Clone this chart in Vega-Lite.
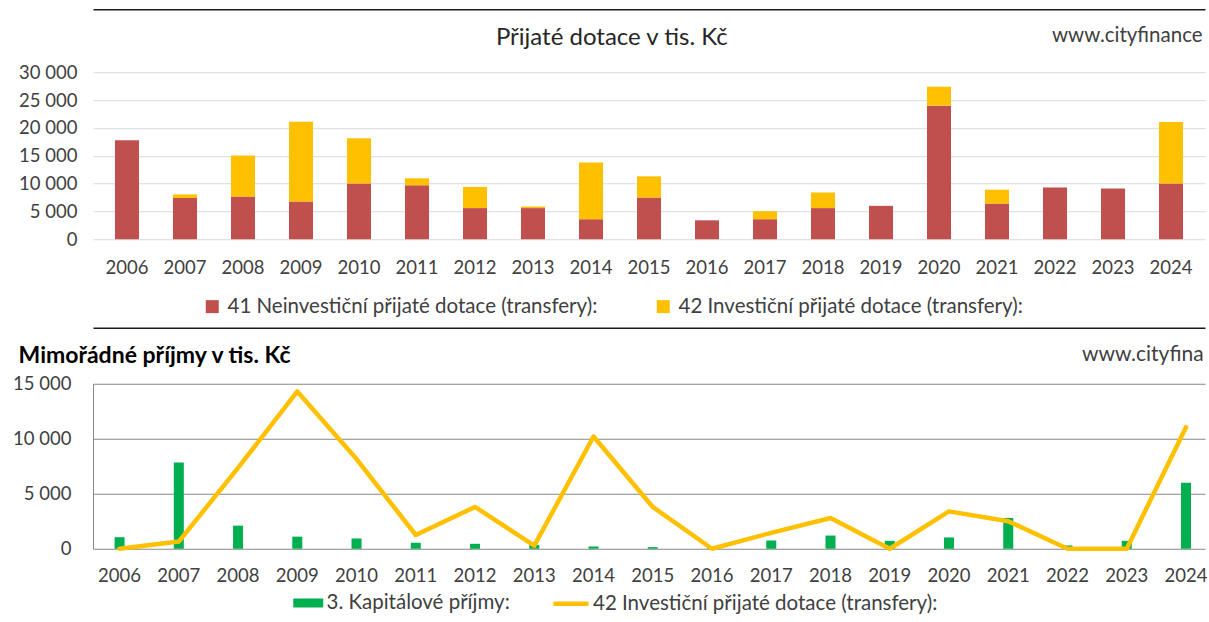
{
  "$schema": "https://vega.github.io/schema/vega-lite/v6.json",
  "padding": {"left": 12, "top": 9.25, "right": 0, "bottom": 0},
  "autosize": {"type": "pad"},
  "background": "white",
  "spacing": 10.5,
  "resolve": {"scale": {"color": "independent", "stroke": "independent", "x": "independent", "y": "independent"}, "legend": {"color": "independent", "stroke": "independent"}},
  "datasets": {
    "top": [
      {"rok": "2006", "typ": "41 Neinvestiční přijaté dotace (transfery):", "tis": 17800},
      {"rok": "2007", "typ": "41 Neinvestiční přijaté dotace (transfery):", "tis": 7400},
      {"rok": "2008", "typ": "41 Neinvestiční přijaté dotace (transfery):", "tis": 7700},
      {"rok": "2009", "typ": "41 Neinvestiční přijaté dotace (transfery):", "tis": 6800},
      {"rok": "2010", "typ": "41 Neinvestiční přijaté dotace (transfery):", "tis": 10000},
      {"rok": "2011", "typ": "41 Neinvestiční přijaté dotace (transfery):", "tis": 9700},
      {"rok": "2012", "typ": "41 Neinvestiční přijaté dotace (transfery):", "tis": 5600},
      {"rok": "2013", "typ": "41 Neinvestiční přijaté dotace (transfery):", "tis": 5600},
      {"rok": "2014", "typ": "41 Neinvestiční přijaté dotace (transfery):", "tis": 3600},
      {"rok": "2015", "typ": "41 Neinvestiční přijaté dotace (transfery):", "tis": 7500},
      {"rok": "2016", "typ": "41 Neinvestiční přijaté dotace (transfery):", "tis": 3400},
      {"rok": "2017", "typ": "41 Neinvestiční přijaté dotace (transfery):", "tis": 3600},
      {"rok": "2018", "typ": "41 Neinvestiční přijaté dotace (transfery):", "tis": 5600},
      {"rok": "2019", "typ": "41 Neinvestiční přijaté dotace (transfery):", "tis": 6000},
      {"rok": "2020", "typ": "41 Neinvestiční přijaté dotace (transfery):", "tis": 24000},
      {"rok": "2021", "typ": "41 Neinvestiční přijaté dotace (transfery):", "tis": 6400},
      {"rok": "2022", "typ": "41 Neinvestiční přijaté dotace (transfery):", "tis": 9300},
      {"rok": "2023", "typ": "41 Neinvestiční přijaté dotace (transfery):", "tis": 9100},
      {"rok": "2024", "typ": "41 Neinvestiční přijaté dotace (transfery):", "tis": 10000},
      {"rok": "2006", "typ": "42 Investiční přijaté dotace (transfery):", "tis": 0},
      {"rok": "2007", "typ": "42 Investiční přijaté dotace (transfery):", "tis": 650},
      {"rok": "2008", "typ": "42 Investiční přijaté dotace (transfery):", "tis": 7350},
      {"rok": "2009", "typ": "42 Investiční přijaté dotace (transfery):", "tis": 14300},
      {"rok": "2010", "typ": "42 Investiční přijaté dotace (transfery):", "tis": 8150},
      {"rok": "2011", "typ": "42 Investiční přijaté dotace (transfery):", "tis": 1250},
      {"rok": "2012", "typ": "42 Investiční přijaté dotace (transfery):", "tis": 3800},
      {"rok": "2013", "typ": "42 Investiční přijaté dotace (transfery):", "tis": 280},
      {"rok": "2014", "typ": "42 Investiční přijaté dotace (transfery):", "tis": 10200},
      {"rok": "2015", "typ": "42 Investiční přijaté dotace (transfery):", "tis": 3800},
      {"rok": "2016", "typ": "42 Investiční přijaté dotace (transfery):", "tis": 0},
      {"rok": "2017", "typ": "42 Investiční přijaté dotace (transfery):", "tis": 1450},
      {"rok": "2018", "typ": "42 Investiční přijaté dotace (transfery):", "tis": 2800},
      {"rok": "2019", "typ": "42 Investiční přijaté dotace (transfery):", "tis": 0},
      {"rok": "2020", "typ": "42 Investiční přijaté dotace (transfery):", "tis": 3400},
      {"rok": "2021", "typ": "42 Investiční přijaté dotace (transfery):", "tis": 2500},
      {"rok": "2022", "typ": "42 Investiční přijaté dotace (transfery):", "tis": 0},
      {"rok": "2023", "typ": "42 Investiční přijaté dotace (transfery):", "tis": 0},
      {"rok": "2024", "typ": "42 Investiční přijaté dotace (transfery):", "tis": 11050}
    ],
    "bottom": [
      {"rok": "2006", "kap": 1050, "inv": 0},
      {"rok": "2007", "kap": 7850, "inv": 650},
      {"rok": "2008", "kap": 2100, "inv": 7350},
      {"rok": "2009", "kap": 1100, "inv": 14300},
      {"rok": "2010", "kap": 930, "inv": 8150},
      {"rok": "2011", "kap": 540, "inv": 1250},
      {"rok": "2012", "kap": 450, "inv": 3800},
      {"rok": "2013", "kap": 350, "inv": 280},
      {"rok": "2014", "kap": 200, "inv": 10200},
      {"rok": "2015", "kap": 150, "inv": 3800},
      {"rok": "2016", "kap": 120, "inv": 0},
      {"rok": "2017", "kap": 750, "inv": 1450},
      {"rok": "2018", "kap": 1200, "inv": 2800},
      {"rok": "2019", "kap": 720, "inv": 0},
      {"rok": "2020", "kap": 1030, "inv": 3400},
      {"rok": "2021", "kap": 2800, "inv": 2500},
      {"rok": "2022", "kap": 300, "inv": 0},
      {"rok": "2023", "kap": 720, "inv": 0},
      {"rok": "2024", "kap": 6000, "inv": 11050}
    ]
  },
  "vconcat": [
    {
      "width": 1112,
      "height": 167,
      "title": {"text": "Přijaté dotace v tis. Kč", "anchor": "middle", "frame": "bounds", "fontSize": 24, "fontWeight": "normal", "font": "Lato", "color": "#262626", "offset": -40.75},
      "resolve": {"axis": {"x": "independent", "y": "independent"}},
      "layer": [
        {
          "data": {"name": "top"},
          "mark": {"type": "bar"},
          "encoding": {
            "x": {"field": "rok", "type": "nominal", "scale": {"paddingInner": 0.586, "paddingOuter": 0.379},
                  "axis": {"title": null, "labelAngle": 0, "domain": false, "ticks": false, "tickSize": 0, "labelPadding": 19, "labelFontSize": 18.5, "labelColor": "#404040", "labelFont": "Lato"}},
            "y": {"field": "tis", "type": "quantitative", "stack": "zero", "scale": {"domain": [0, 30000], "nice": false},
                  "axis": {"title": null, "values": [0, 5000, 10000, 15000, 20000, 25000, 30000], "format": ",d", "labelOverlap": false, "domain": false, "ticks": false, "tickSize": 0, "labelPadding": 16, "grid": true, "gridColor": "#D9D9D9", "labelFontSize": 18.5, "labelColor": "#404040", "labelFont": "Lato"}},
            "color": {"field": "typ", "type": "nominal", "scale": {"domain": ["41 Neinvestiční přijaté dotace (transfery):", "42 Investiční přijaté dotace (transfery):"], "range": ["#C0504D", "#FFC000"]},
                      "legend": {"title": null, "orient": "none", "direction": "horizontal", "legendX": 109, "legendY": 224, "symbolType": "square", "symbolSize": 169, "symbolStrokeWidth": 0, "labelOffset": 5, "columnPadding": 55, "labelFontSize": 20.5, "labelFont": "Lato", "labelColor": "#404040", "labelLimit": 700}},
            "order": {"field": "typ", "sort": "ascending"}
          }
        },
        {
          "data": {"values": [{"url": "www.cityfinance", "rok": "2024", "y": 36440}]},
          "mark": {"type": "text", "align": "left", "baseline": "middle", "dx": -119, "font": "Lato", "fontSize": 20.5, "color": "#404040"},
          "encoding": {
            "x": {"field": "rok", "type": "nominal", "axis": {"orient": "top", "offset": 63, "title": null, "labels": false, "ticks": false, "grid": false, "domain": true, "domainColor": "#1a1a1a", "domainWidth": 1.5}},
            "y": {"field": "y", "type": "quantitative", "axis": null},
            "text": {"field": "url"}
          }
        }
      ]
    },
    {
      "width": 1112,
      "height": 165,
      "title": {"text": "Mimořádné příjmy v tis. Kč", "anchor": "start", "frame": "bounds", "fontSize": 23, "fontWeight": "bold", "font": "Lato", "color": "#000000", "offset": -40.5, "dx": 6},
      "data": {"name": "bottom"},
      "resolve": {"axis": {"x": "independent", "y": "independent"}},
      "layer": [
        {
          "mark": {"type": "bar"},
          "encoding": {
            "x": {"field": "rok", "type": "nominal", "scale": {"paddingInner": 0.831, "paddingOuter": 0.3, "align": 0.606},
                  "axis": {"title": null, "labelAngle": 0, "domain": false, "ticks": false, "tickSize": 0, "labelPadding": 18, "labelFontSize": 18.5, "labelColor": "#404040", "labelFont": "Lato"}},
            "y": {"field": "kap", "type": "quantitative", "scale": {"domain": [0, 15000], "nice": false},
                  "axis": {"title": null, "values": [0, 5000, 10000, 15000], "format": ",d", "labelOverlap": false, "domain": true, "domainColor": "#868686", "ticks": false, "tickSize": 0, "labelPadding": 22, "grid": true, "gridColor": "#868686", "labelFontSize": 18.5, "labelColor": "#404040", "labelFont": "Lato"}},
            "color": {"datum": "3. Kapitálové příjmy:", "type": "nominal", "scale": {"range": ["#00B050"]},
                      "legend": {"title": null, "orient": "none", "legendX": 205, "legendY": 209, "symbolType": "M-3,-0.9H3V0.9H-3Z", "symbolSize": 100, "symbolStrokeWidth": 0, "labelOffset": 8, "labelFontSize": 20.5, "labelFont": "Lato", "labelColor": "#404040", "labelLimit": 700}}
          }
        },
        {
          "mark": {"type": "line", "strokeWidth": 4.5, "strokeJoin": "round", "strokeCap": "round"},
          "encoding": {
            "x": {"field": "rok", "type": "nominal", "axis": null},
            "y": {"field": "inv", "type": "quantitative", "axis": null},
            "stroke": {"datum": "42 Investiční přijaté dotace (transfery):", "type": "nominal", "scale": {"range": ["#FFC000"]},
                       "legend": {"title": null, "orient": "none", "legendX": 458, "legendY": 200, "symbolType": "stroke", "symbolSize": 1225, "symbolStrokeWidth": 4.5, "labelOffset": 2, "labelFontSize": 20.5, "labelFont": "Lato", "labelColor": "#404040", "labelLimit": 700}}
          }
        },
        {
          "data": {"values": [{"url": "www.cityfina", "rok": "2024", "y": 17640}]},
          "mark": {"type": "text", "align": "left", "baseline": "middle", "dx": -104, "font": "Lato", "fontSize": 21, "color": "#404040"},
          "encoding": {
            "x": {"field": "rok", "type": "nominal", "axis": {"orient": "top", "offset": 56, "title": null, "labels": false, "ticks": false, "grid": false, "domain": true, "domainColor": "#1a1a1a", "domainWidth": 1.5}},
            "y": {"field": "y", "type": "quantitative", "axis": null},
            "text": {"field": "url"}
          }
        }
      ]
    }
  ],
  "config": {
    "locale": {"number": {"decimal": ",", "thousands": " ", "grouping": [3], "currency": ["", " Kč"]}},
    "view": {"stroke": null},
    "font": "Lato"
  }
}
